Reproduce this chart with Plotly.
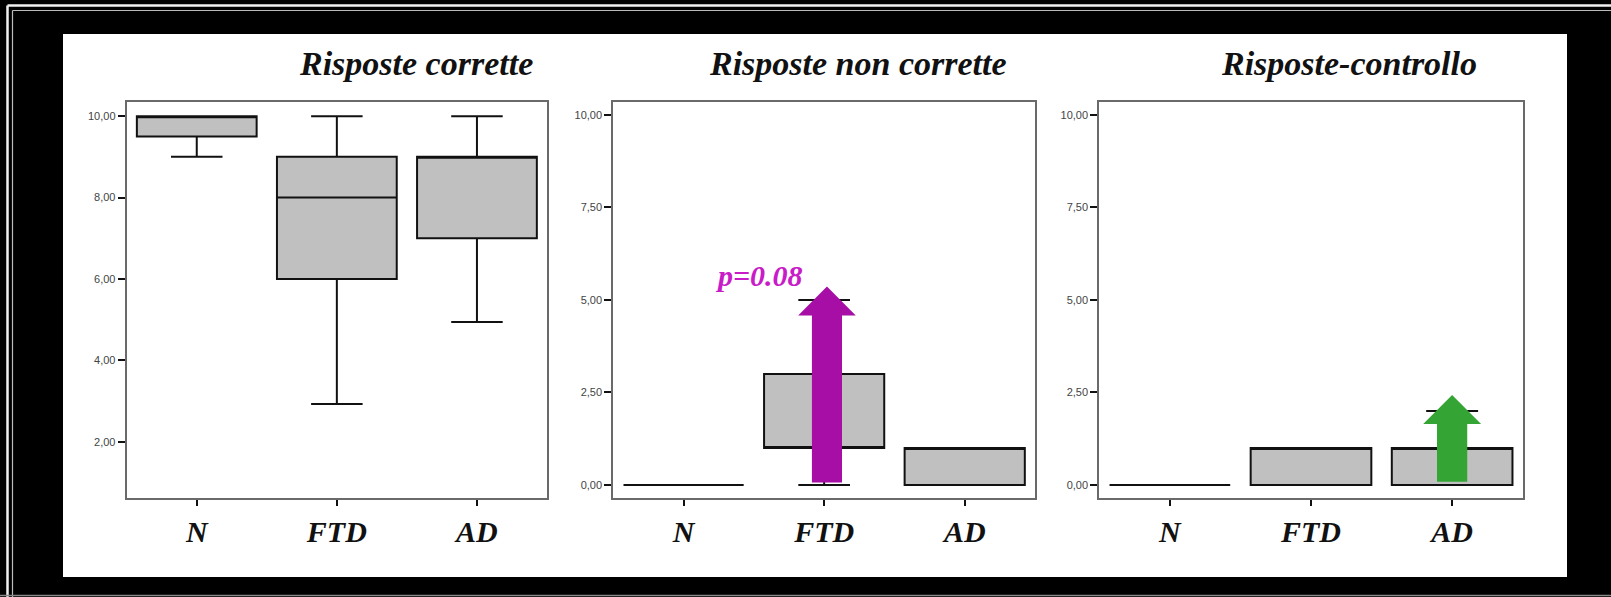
import plotly.graph_objects as go

# figure size in pixels, used to place things in paper coordinates
W, H = 1611, 597

categories = ["N", "FTD", "AD"]
cat_pos = [0, 1, 2]

# panel titles
titles = ["Risposte corrette", "Risposte non corrette", "Risposte-controllo"]

# box statistics per panel (N, FTD, AD)
q1 = [[9.5, 6.0, 7.0], [0.0, 1.0, 0.0], [0.0, 0.0, 0.0]]
median = [[10.0, 8.0, 9.0], [0.0, 1.0, 1.0], [0.0, 1.0, 1.0]]
q3 = [[10.0, 9.0, 9.0], [0.0, 3.0, 1.0], [0.0, 1.0, 1.0]]
lower = [[9.0, 2.93, 4.94], [0.0, 0.0, 0.0], [0.0, 0.0, 0.0]]
upper = [[10.0, 10.0, 10.0], [0.0, 5.0, 1.0], [0.0, 1.0, 2.0]]

# y ticks per panel
y_ticks = [[2, 4, 6, 8, 10], [0, 2.5, 5, 7.5, 10], [0, 2.5, 5, 7.5, 10]]
y_ranges = [[0.61, 10.34], [-0.36, 10.34], [-0.36, 10.34]]

# highlight arrows: panel index, category position, base value, tip value
arrow_panel = [1, 2]
arrow_x = [1.02, 2.0]
arrow_base = [0.07, 0.09]
arrow_tip = [5.36, 2.43]
arrow_colors = ["#A60EA6", "#34A534"]

p_label = "p=0.08"


def px_x(p):
    return p / W


def px_y(p):
    return 1 - p / H


x_domains = [
    [px_x(126.7), px_x(547.0)],
    [px_x(613.3), px_x(1035.0)],
    [px_x(1099.3), px_x(1522.7)],
]
y_domain = [px_y(498.3), px_y(102.3)]

fig = go.Figure()

for i in range(3):
    xa = "x" if i == 0 else f"x{i + 1}"
    ya = "y" if i == 0 else f"y{i + 1}"
    fig.add_trace(
        go.Box(
            x=cat_pos,
            q1=q1[i],
            median=median[i],
            q3=q3[i],
            lowerfence=lower[i],
            upperfence=upper[i],
            width=0.855,
            whiskerwidth=0.43,
            fillcolor="#C0C0C0",
            line=dict(color="#111111", width=2),
            boxpoints=False,
            xaxis=xa,
            yaxis=ya,
            hoverinfo="skip",
        )
    )

# fat block arrows drawn as filled polygons
SW, HW, HH = 0.107, 0.205, 0.78
for p, x, b, t, c in zip(arrow_panel, arrow_x, arrow_base, arrow_tip, arrow_colors):
    xs = [x - SW, x - SW, x - HW, x, x + HW, x + SW, x + SW, x - SW]
    ys = [b, t - HH, t - HH, t, t - HH, t - HH, b, b]
    fig.add_trace(
        go.Scatter(
            x=xs,
            y=ys,
            mode="lines",
            fill="toself",
            fillcolor=c,
            line=dict(width=0, color=c),
            xaxis=f"x{p + 1}",
            yaxis=f"y{p + 1}",
            hoverinfo="skip",
        )
    )

fig.add_annotation(
    x=0.54,
    y=5.65,
    xref="x2",
    yref="y2",
    xanchor="center",
    yanchor="middle",
    text=f"<b><i>{p_label}</i></b>",
    showarrow=False,
    font=dict(family="Liberation Serif", size=30, color="#C81CC8"),
)

title_x = [416, 858, 1349]
for t, cx in zip(titles, title_x):
    fig.add_annotation(
        x=px_x(cx),
        y=px_y(63),
        xref="paper",
        yref="paper",
        xanchor="center",
        yanchor="middle",
        text=f"<b><i>{t}</i></b>",
        showarrow=False,
        font=dict(family="Liberation Serif", size=34, color="#111111"),
    )

axis_common = dict(
    showline=True,
    mirror=True,
    linecolor="#6A6A6A",
    linewidth=2,
    showgrid=False,
    zeroline=False,
    ticks="outside",
    tickcolor="#111111",
    tickwidth=1.5,
)

for i in range(3):
    sfx = "" if i == 0 else str(i + 1)
    fig.update_layout(
        **{
            f"xaxis{sfx}": dict(
                axis_common,
                domain=x_domains[i],
                range=[-0.5, 2.5],
                tickvals=cat_pos,
                ticktext=[f"<b><i>{c}</i></b>" for c in categories],
                ticklen=6,
                ticklabelstandoff=0,
                tickfont=dict(family="Liberation Serif", size=30, color="#111111"),
                anchor="y" + sfx,
            ),
            f"yaxis{sfx}": dict(
                axis_common,
                domain=y_domain,
                range=y_ranges[i],
                tickvals=y_ticks[i],
                tickformat=".2f",
                ticklen=7,
                tickfont=dict(family="Liberation Sans", size=11, color="#444444"),
                anchor="x" + sfx,
            ),
        }
    )

shapes = [
    # white slide area
    dict(type="rect", xref="paper", yref="paper",
         x0=px_x(63), x1=px_x(1567), y0=px_y(577), y1=px_y(34),
         fillcolor="white", line=dict(width=0), layer="below"),
    # frame lines along the top and left edges
    dict(type="line", xref="paper", yref="paper",
         x0=px_x(7.5), x1=1, y0=px_y(5.5), y1=px_y(5.5),
         line=dict(color="#F0F0F0", width=2.5), layer="below"),
    dict(type="line", xref="paper", yref="paper",
         x0=px_x(7.5), x1=px_x(7.5), y0=0, y1=px_y(5.5),
         line=dict(color="#F0F0F0", width=2.5), layer="below"),
    dict(type="line", xref="paper", yref="paper",
         x0=px_x(12.5), x1=1, y0=px_y(10.5), y1=px_y(10.5),
         line=dict(color="#BBBBBB", width=1.2), layer="below"),
    dict(type="line", xref="paper", yref="paper",
         x0=px_x(12.5), x1=px_x(12.5), y0=0, y1=px_y(10.5),
         line=dict(color="#BBBBBB", width=1.2), layer="below"),
    dict(type="line", xref="paper", yref="paper",
         x0=0, x1=1, y0=px_y(595.5), y1=px_y(595.5),
         line=dict(color="#888888", width=1.5), layer="below"),
]

fig.update_layout(
    width=W,
    height=H,
    margin=dict(l=0, r=0, t=0, b=0),
    paper_bgcolor="black",
    plot_bgcolor="white",
    separators=",.",
    showlegend=False,
    shapes=shapes,
)

page_fix = (
    "document.body.style.margin='0';"
    "document.body.style.overflow='hidden';"
    "document.documentElement.style.overflow='hidden';"
    "document.body.style.background='black';"
    "document.documentElement.style.background='black';"
)

fig.write_html("out.html", config={"displayModeBar": False}, post_script=page_fix)
